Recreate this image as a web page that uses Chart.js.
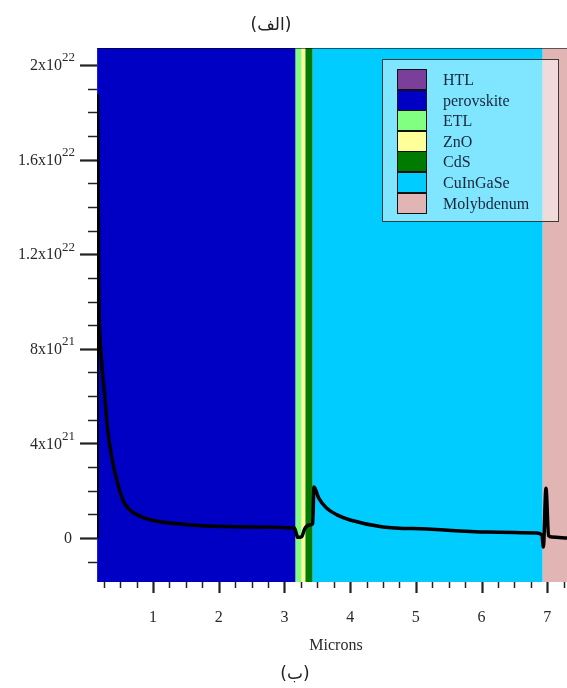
<!DOCTYPE html>
<html lang="fa">
<head>
  <meta charset="UTF-8" />
  <title>Microns profile</title>
  <script src="https://cdn.jsdelivr.net/npm/chart.js"></script>
  <style>
    body { margin: 0; background: #fff; }
    #wrap { position: relative; width: 567px; height: 688px; }
    .cap { position: absolute; font-family: "DejaVu Sans", sans-serif; font-size: 17px; color: #222;
           transform: translate(-50%, -50%); white-space: nowrap; }
    #legend { position: absolute; left: 382px; top: 59px; width: 177px; height: 163px; box-sizing: border-box;
              border: 1.5px solid #3a3a3a; background: rgba(255,255,255,0.5); }
    .sw { position: absolute; left: 14px; width: 30px; box-sizing: border-box; border: 1px solid #111; }
    .lbl { position: absolute; left: 60px; font-family: "Liberation Serif", serif; font-size: 16px; color: #17263a; }
  </style>
</head>
<body>
<div id="wrap">
  <canvas id="c" width="567" height="688"></canvas>
  <div class="cap" dir="rtl" style="left:271px; top:24px;">(الف)</div>
  <div class="cap" dir="rtl" style="left:295px; top:673px;">(ب)</div>
  <div id="legend"></div>
</div>

<script>
  // layers (microns)
  const layerNames  = ["HTL", "perovskite", "ETL", "ZnO", "CdS", "CuInGaSe", "Molybdenum"];
  const layerFrom   = [0.0, 0.15, 3.17, 3.26, 3.32, 3.43, 6.93];
  const layerTo     = [0.15, 3.17, 3.26, 3.32, 3.43, 6.93, 7.6];
  const layerColors = ["#7b3f99", "#0000c4", "#80ff80", "#ffff99", "#007a00", "#00ccff", "#e2b5b5"];

  // curve, y in units of 1e21
  const xs = [0.15, 0.155, 0.175, 0.21, 0.26, 0.31, 0.38, 0.45, 0.51, 0.57, 0.66, 0.77, 0.92, 1.13, 1.4, 1.74, 2.5, 3.15,
              3.18, 3.20, 3.26, 3.31, 3.38, 3.43, 3.45, 3.52, 3.64, 3.8, 4.0, 4.5, 5.17, 6.08, 6.84,
              6.92, 6.94, 6.98, 7.02, 7.07, 7.3];
  const ys = [0, 18.7, 10.5, 7.8, 6.2, 4.6, 3.3, 2.45, 1.85, 1.45, 1.15, 0.97, 0.8, 0.68, 0.6, 0.52, 0.47, 0.42,
              0.2, 0.03, 0.05, 0.40, 0.55, 0.6, 2.16, 1.7, 1.27, 0.98, 0.76, 0.47, 0.38, 0.25, 0.21,
              0.12, -0.38, 2.1, 0.1, 0.04, 0.0];

  const xTicks = [1, 2, 3, 4, 5, 6, 7];
  const yTicks = [0, 4, 8, 12, 16, 20];
  const yTickBase = ["0", "4x10", "8x10", "1.2x10", "1.6x10", "2x10"];
  const yTickExp  = ["", "21", "21", "22", "22", "22"];

  // legend
  const legend = document.getElementById("legend");
  layerNames.forEach((name, i) => {
    const top = 9 + i * 20.6;
    legend.insertAdjacentHTML("beforeend",
      `<div class="sw" style="top:${top}px;height:21px;background:${layerColors[i]}"></div>
       <div class="lbl" style="top:${top + 1}px;line-height:20px">${name}</div>`);
  });

  const layerBands = {
    id: "layerBands",
    beforeDatasetsDraw(chart) {
      const { ctx, chartArea: a, scales: { x } } = chart;
      ctx.save();
      ctx.beginPath();
      ctx.rect(a.left, a.top, a.right - a.left, a.bottom - a.top);
      ctx.clip();
      layerNames.forEach((n, i) => {
        const x0 = x.getPixelForValue(layerFrom[i]);
        const x1 = x.getPixelForValue(layerTo[i]);
        ctx.fillStyle = layerColors[i];
        ctx.fillRect(x0, a.top, x1 - x0, a.bottom - a.top);
      });
      ctx.fillStyle = "rgba(0,0,0,0.55)";
      ctx.fillRect(a.left, a.top, a.right - a.left, 1);
      ctx.restore();
    }
  };

  const axesPlugin = {
    id: "axesPlugin",
    afterDraw(chart) {
      const { ctx, chartArea: a, scales: { x, y } } = chart;
      ctx.save();
      ctx.strokeStyle = "#222";
      ctx.fillStyle = "#2a2a2a";

      // y ticks
      for (let v = -1; v <= 20; v++) {
        const py = Math.round(y.getPixelForValue(v)) + 0.5;
        const major = yTicks.includes(v);
        ctx.lineWidth = major ? 2.2 : 1.5;
        ctx.beginPath();
        ctx.moveTo(a.left - (major ? 17 : 9), py);
        ctx.lineTo(a.left, py);
        ctx.stroke();
      }
      ctx.textBaseline = "middle";
      ctx.textAlign = "right";
      yTicks.forEach((v, i) => {
        const py = y.getPixelForValue(v);
        let right = 75;
        if (yTickExp[i]) {
          ctx.font = '13px "Liberation Serif"';
          ctx.fillText(yTickExp[i], right, py - 7);
          right -= ctx.measureText(yTickExp[i]).width;
        } else {
          right = 72;
        }
        ctx.font = '16px "Liberation Serif"';
        ctx.fillText(yTickBase[i], right, py + 1);
      });

      // x ticks
      for (let v = 0.25; v <= 7.3; v += 0.25) {
        const px = Math.round(x.getPixelForValue(v)) + 0.5;
        const major = Math.abs(v - Math.round(v)) < 1e-6;
        ctx.lineWidth = major ? 2.2 : 1.5;
        ctx.beginPath();
        ctx.moveTo(px, a.bottom);
        ctx.lineTo(px, a.bottom + (major ? 11 : 6));
        ctx.stroke();
      }
      ctx.textAlign = "center";
      ctx.font = '16px "Liberation Serif"';
      xTicks.forEach(v => ctx.fillText(String(v), x.getPixelForValue(v), 618));
      ctx.fillText("Microns", 336, 646);
      ctx.restore();
    }
  };

  new Chart(document.getElementById("c"), {
    type: "line",
    data: {
      datasets: [{
        data: xs.map((v, i) => ({ x: v, y: ys[i] })),
        borderColor: "#000",
        borderWidth: 3.5,
        pointRadius: 0,
        fill: false,
        cubicInterpolationMode: "monotone"
      }]
    },
    options: {
      responsive: false,
      animation: false,
      layout: { padding: { left: 97, top: 48, right: 0, bottom: 106 } },
      plugins: { legend: { display: false }, tooltip: { enabled: false } },
      scales: {
        x: { type: "linear", min: 0.148, max: 7.30, display: false },
        y: { min: -1.86, max: 20.72, display: false }
      }
    },
    plugins: [layerBands, axesPlugin]
  });
</script>
</body>
</html>
